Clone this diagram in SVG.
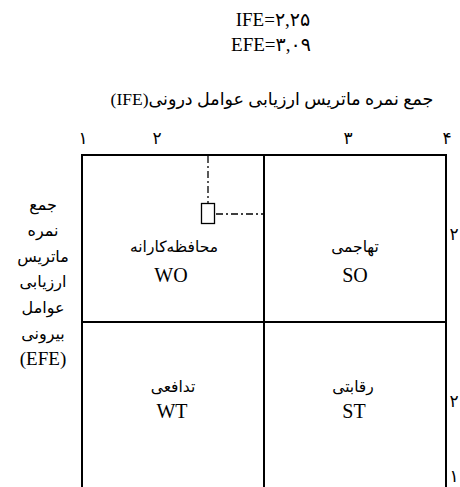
<svg xmlns="http://www.w3.org/2000/svg" width="460" height="487" viewBox="0 0 460 487">
<style>
text{font-family:"Liberation Serif","DejaVu Sans",serif;fill:#000}
.lat{font-size:20px}
.fa{font-size:15.5px}
.num{font-size:17px}
.frame{stroke:#000;stroke-width:2;fill:none}
.dash{stroke:#000;stroke-width:1.3;fill:none;stroke-dasharray:7 3 2 3}
</style>
<rect width="460" height="487" fill="#fff"/>
<g id="header">
<text x="273" y="26" text-anchor="middle" font-size="19">IFE=۲,۲۵</text>
<text x="271" y="51" text-anchor="middle" font-size="19">EFE=۳,۰۹</text>
<text x="272" y="105" text-anchor="middle" direction="rtl" font-size="17.5">جمع نمره ماتریس ارزیابی عوامل درونی(IFE)</text>
</g>
<g id="x-axis">
<text x="83" y="144" text-anchor="middle" class="num">۱</text>
<text x="157" y="144" text-anchor="middle" class="num">۲</text>
<text x="348" y="144" text-anchor="middle" class="num">۳</text>
<text x="447" y="144" text-anchor="middle" class="num">۴</text>
</g>
<g id="y-axis">
<text x="454" y="240" text-anchor="middle" class="num">۲</text>
<text x="454" y="407" text-anchor="middle" class="num">۲</text>
<text x="454" y="482" text-anchor="middle" class="num">۱</text>
</g>
<g id="y-title" text-anchor="middle" font-size="16">
<text x="43" y="210">جمع</text>
<text x="43" y="236">نمره</text>
<text x="43" y="262">ماتریس</text>
<text x="43" y="287">ارزیابی</text>
<text x="43" y="313">عوامل</text>
<text x="43" y="339">بیرونی</text>
<text x="43" y="365" font-size="19">(EFE)</text>
</g>
<g id="grid">
<path class="frame" d="M82 487V155H446V487M264 155V487M82 322H446"/>
</g>
<g id="WO">
<text x="174" y="252" text-anchor="middle" class="fa">محافظه&#x200C;کارانه</text>
<text x="171" y="282" text-anchor="middle" class="lat">WO</text>
</g>
<g id="SO">
<text x="355" y="252" text-anchor="middle" class="fa">تهاجمی</text>
<text x="355" y="282" text-anchor="middle" class="lat">SO</text>
</g>
<g id="WT">
<text x="173" y="392" text-anchor="middle" class="fa">تدافعی</text>
<text x="172" y="418" text-anchor="middle" class="lat">WT</text>
</g>
<g id="ST">
<text x="353" y="392" text-anchor="middle" class="fa">رقابتی</text>
<text x="354" y="418" text-anchor="middle" class="lat">ST</text>
</g>
<g id="position">
<rect x="201.5" y="203.5" width="13" height="20" fill="#fff" stroke="#000" stroke-width="1.3"/>
</g>
<g id="connectors">
<path class="dash" d="M208 156V203"/>
<path class="dash" d="M216 214H263"/>
</g>
</svg>
